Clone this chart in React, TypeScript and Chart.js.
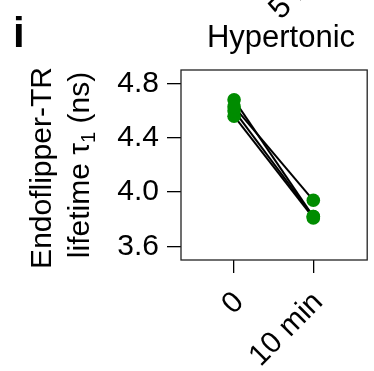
import React, { useEffect, useRef } from "react";
import { Chart, registerables } from "chart.js";

Chart.register(...registerables);

const timeLabels = ["0", "10 min"];
const cellA = [4.63, 3.94];
const cellB = [4.68, 3.82];
const cellC = [4.6, 3.82];
const cellD = [4.56, 3.81];
const cells = [cellA, cellB, cellC, cellD];
const yTicks = [3.6, 4.0, 4.4, 4.8];
const titleText = "Hypertonic";
const topText = "5 min";
const yTitle1 = "Endoflipper-TR";
const yTitle2a = "lifetime τ";
const yTitle2sub = "1";
const yTitle2b = " (ns)";
const panelLabel = "i";

const FONT = '"Liberation Sans", Arial, Helvetica, sans-serif';
const GREEN = "#008c00";

const textPlugin = {
  id: "texts",
  beforeDatasetsDraw(chart: any) {
    const { ctx, chartArea } = chart;
    ctx.save();
    ctx.strokeStyle = "#222";
    ctx.lineWidth = 1.3;
    ctx.strokeRect(chartArea.left, chartArea.top, chartArea.right - chartArea.left, chartArea.bottom - chartArea.top);
    ctx.restore();
  },
  afterDraw(chart: any) {
    const { ctx } = chart;
    ctx.save();
    ctx.fillStyle = "#000";
    // panel label
    ctx.font = `bold 42px ${FONT}`;
    ctx.textAlign = "left";
    ctx.textBaseline = "alphabetic";
    ctx.fillText(panelLabel, 13, 47);
    // title
    ctx.font = `31px ${FONT}`;
    ctx.textAlign = "center";
    ctx.fillText(titleText, 281, 47);
    // rotated top text
    ctx.save();
    ctx.translate(280.7, 20.4);
    ctx.rotate(-Math.PI / 4);
    ctx.textAlign = "left";
    ctx.fillText(topText, 0, 0);
    ctx.restore();
    // y title line 1
    ctx.font = `30px ${FONT}`;
    ctx.save();
    ctx.translate(51, 168);
    ctx.rotate(-Math.PI / 2);
    ctx.textAlign = "center";
    ctx.fillText(yTitle1, 0, 0);
    ctx.restore();
    // y title line 2 with subscript
    ctx.save();
    ctx.translate(89, 165);
    ctx.rotate(-Math.PI / 2);
    ctx.textAlign = "left";
    const big = `30px ${FONT}`;
    const small = `20px ${FONT}`;
    ctx.font = big;
    const w1 = ctx.measureText(yTitle2a).width;
    const w3 = ctx.measureText(yTitle2b).width;
    ctx.font = small;
    const w2 = ctx.measureText(yTitle2sub).width;
    const total = w1 + w2 + w3;
    let x = -total / 2;
    ctx.font = big;
    ctx.fillText(yTitle2a, x, 0);
    x += w1;
    ctx.font = small;
    ctx.fillText(yTitle2sub, x, 6);
    x += w2;
    ctx.font = big;
    ctx.fillText(yTitle2b, x, 0);
    ctx.restore();
    ctx.restore();
  },
};

export default function App() {
  const ref = useRef<HTMLCanvasElement | null>(null);
  useEffect(() => {
    if (!ref.current) return;
    const lineSets = cells.map((c) => ({
      type: "line" as const,
      data: c.map((v, i) => ({ x: i, y: v })),
      borderColor: "#000",
      borderWidth: 2,
      pointRadius: 0,
      fill: false,
      order: 2,
    }));
    const pointSets = cells.map((c) => ({
      type: "scatter" as const,
      data: c.map((v, i) => ({ x: i, y: v })),
      backgroundColor: GREEN,
      borderColor: GREEN,
      borderWidth: 0,
      pointRadius: 6.8,
      order: 1,
    }));
    const chart = new Chart(ref.current, {
      type: "line",
      data: { datasets: [...lineSets, ...pointSets] as any },
      plugins: [textPlugin],
      options: {
        animation: false,
        responsive: false,
        layout: { padding: { left: 0, top: 70, right: 3, bottom: 0 } },
        plugins: { legend: { display: false }, tooltip: { enabled: false }, title: { display: false } },
        scales: {
          x: {
            type: "linear",
            min: -0.67,
            max: 1.68,
            afterBuildTicks: (s: any) => {
              s.ticks = timeLabels.map((_, i) => ({ value: i }));
            },
            afterFit: (s: any) => {
              s.height = 111;
            },
            border: { display: false },
            grid: { drawOnChartArea: false, drawTicks: true, tickLength: 13, color: "#000", lineWidth: 1.3 },
            ticks: {
              minRotation: 45,
              maxRotation: 45,
              padding: 12,
              labelOffset: 5,
              color: "#000",
              font: { family: FONT, size: 30 },
              callback: (v: any) => timeLabels[v] ?? "",
            },
          },
          y: {
            type: "linear",
            min: 3.5,
            max: 4.9,
            afterBuildTicks: (s: any) => {
              s.ticks = yTicks.map((v) => ({ value: v }));
            },
            afterFit: (s: any) => {
              s.width = 181;
            },
            border: { display: false },
            grid: { drawOnChartArea: false, drawTicks: true, tickLength: 14, color: "#000", lineWidth: 1.3 },
            ticks: {
              padding: 8,
              color: "#000",
              font: { family: FONT, size: 30 },
              callback: (v: any) => Number(v).toFixed(1),
            },
          },
        },
      },
    });
    return () => chart.destroy();
  }, []);
  return (
    <div style={{ position: "absolute", left: 0, top: 0, width: 374, height: 371, background: "#fff" }}>
      <canvas ref={ref} width={374} height={371} style={{ display: "block" }} />
    </div>
  );
}
